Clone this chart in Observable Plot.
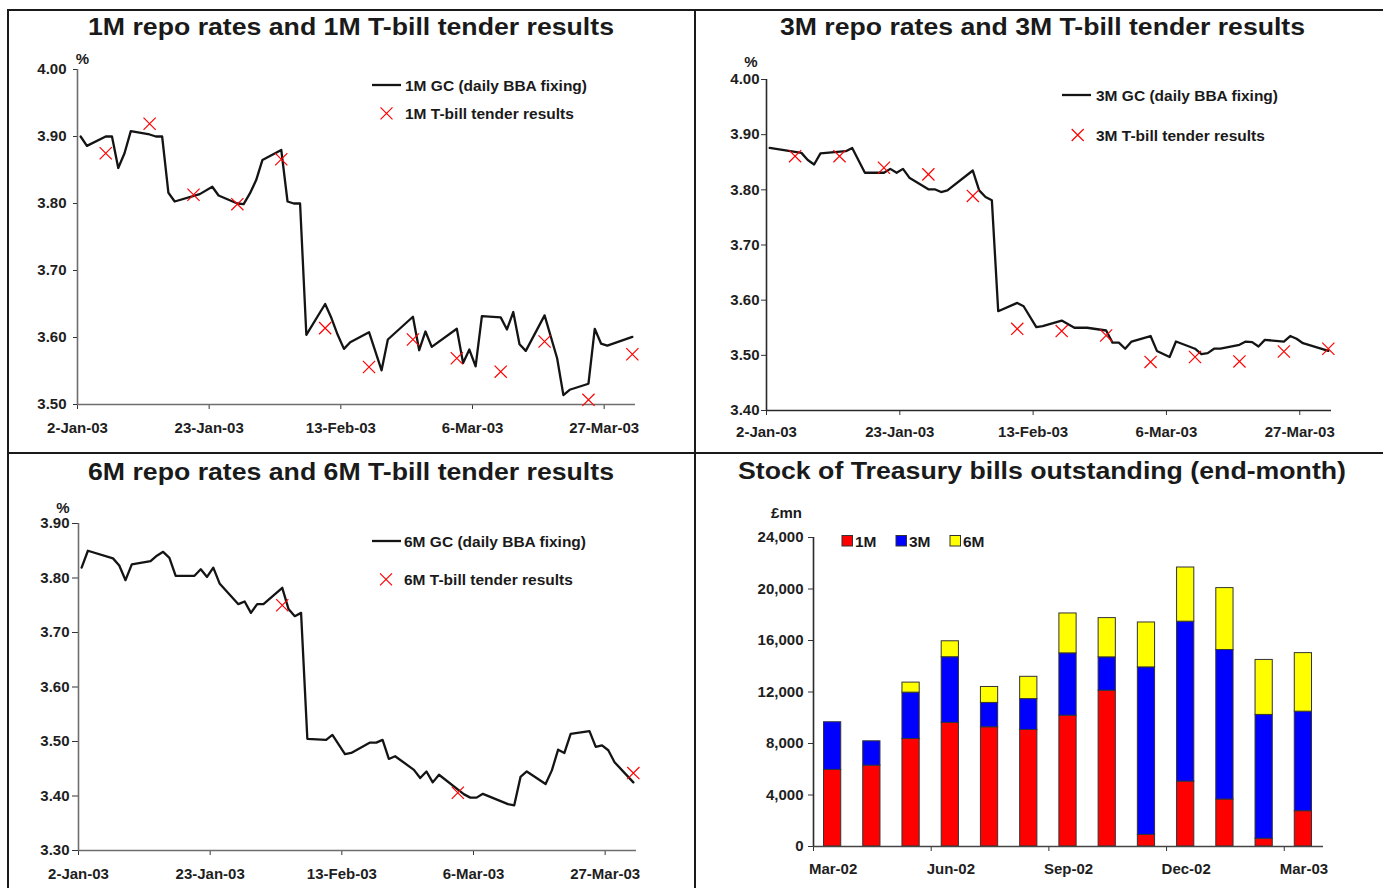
<!DOCTYPE html>
<html><head><meta charset="utf-8">
<script src="https://cdn.jsdelivr.net/npm/d3@7"></script>
<script src="https://cdn.jsdelivr.net/npm/@observablehq/plot@0.6"></script>
<style>
html,body{margin:0;padding:0;background:#fff;}
#root{position:relative;width:1383px;height:888px;overflow:hidden;font-family:"Liberation Sans",Arial,sans-serif;}
</style></head><body><div id="root"></div>
<script>
// ---------- DATA ----------
const dateTicks = ["2003-01-02","2003-01-23","2003-02-13","2003-03-06","2003-03-27"];
const tenderDates = ["2003-01-06","2003-01-13","2003-01-20","2003-01-27","2003-02-03","2003-02-10","2003-02-17","2003-02-24","2003-03-03","2003-03-10","2003-03-17","2003-03-24","2003-03-31"];

const gc1mDates = ["2003-01-02","2003-01-03","2003-01-06","2003-01-07","2003-01-08","2003-01-09","2003-01-10","2003-01-13","2003-01-14","2003-01-15","2003-01-16","2003-01-17","2003-01-21","2003-01-23","2003-01-24","2003-01-27","2003-01-28","2003-01-29","2003-01-30","2003-01-31","2003-02-03","2003-02-04","2003-02-05","2003-02-06","2003-02-07","2003-02-10","2003-02-11","2003-02-12","2003-02-13","2003-02-14","2003-02-17","2003-02-19","2003-02-20","2003-02-24","2003-02-25","2003-02-26","2003-02-27","2003-03-03","2003-03-04","2003-03-05","2003-03-06","2003-03-07","2003-03-10","2003-03-11","2003-03-12","2003-03-13","2003-03-14","2003-03-17","2003-03-19","2003-03-20","2003-03-21","2003-03-24","2003-03-25","2003-03-26","2003-03-27","2003-03-31"];
const gc1mValues = [3.900,3.886,3.900,3.900,3.853,3.875,3.908,3.903,3.900,3.900,3.816,3.803,3.814,3.825,3.812,3.800,3.799,3.815,3.835,3.865,3.880,3.803,3.800,3.800,3.604,3.650,3.629,3.604,3.583,3.593,3.608,3.551,3.597,3.631,3.581,3.609,3.586,3.613,3.562,3.582,3.557,3.632,3.630,3.612,3.638,3.590,3.580,3.633,3.569,3.514,3.522,3.531,3.613,3.591,3.588,3.601];
const tender1mValues = [3.875,3.919,3.813,3.799,3.866,3.614,3.556,3.597,3.569,3.549,3.594,3.507,3.575];

const gc3mDates = ["2003-01-02","2003-01-07","2003-01-08","2003-01-09","2003-01-10","2003-01-14","2003-01-15","2003-01-17","2003-01-20","2003-01-21","2003-01-22","2003-01-23","2003-01-24","2003-01-27","2003-01-28","2003-01-29","2003-01-30","2003-02-03","2003-02-04","2003-02-05","2003-02-06","2003-02-07","2003-02-10","2003-02-11","2003-02-13","2003-02-14","2003-02-17","2003-02-19","2003-02-21","2003-02-24","2003-02-25","2003-02-26","2003-02-27","2003-02-28","2003-03-03","2003-03-04","2003-03-06","2003-03-07","2003-03-10","2003-03-11","2003-03-12","2003-03-13","2003-03-14","2003-03-17","2003-03-18","2003-03-19","2003-03-20","2003-03-21","2003-03-24","2003-03-25","2003-03-26","2003-03-27","2003-03-31"];
const gc3mValues = [3.876,3.867,3.854,3.846,3.866,3.870,3.876,3.831,3.831,3.838,3.831,3.838,3.822,3.801,3.801,3.796,3.799,3.835,3.799,3.787,3.781,3.580,3.595,3.589,3.551,3.553,3.563,3.550,3.550,3.545,3.523,3.523,3.512,3.525,3.535,3.508,3.497,3.525,3.512,3.502,3.504,3.512,3.512,3.519,3.525,3.524,3.516,3.528,3.525,3.535,3.530,3.522,3.508];
const tender3mValues = [3.861,3.861,3.840,3.828,3.789,3.548,3.544,3.536,3.488,3.497,3.489,3.507,3.512];

const gc6mDates = ["2003-01-02","2003-01-03","2003-01-07","2003-01-08","2003-01-09","2003-01-10","2003-01-13","2003-01-14","2003-01-15","2003-01-16","2003-01-17","2003-01-20","2003-01-21","2003-01-22","2003-01-23","2003-01-24","2003-01-27","2003-01-28","2003-01-29","2003-01-30","2003-01-31","2003-02-03","2003-02-04","2003-02-05","2003-02-06","2003-02-07","2003-02-10","2003-02-11","2003-02-13","2003-02-14","2003-02-17","2003-02-18","2003-02-19","2003-02-20","2003-02-21","2003-02-24","2003-02-25","2003-02-26","2003-02-27","2003-02-28","2003-03-04","2003-03-05","2003-03-06","2003-03-07","2003-03-11","2003-03-12","2003-03-13","2003-03-14","2003-03-17","2003-03-18","2003-03-19","2003-03-20","2003-03-21","2003-03-24","2003-03-25","2003-03-26","2003-03-27","2003-03-28","2003-03-31"];
const gc6mValues = [3.819,3.850,3.836,3.823,3.796,3.825,3.831,3.841,3.848,3.837,3.804,3.804,3.816,3.802,3.819,3.790,3.752,3.757,3.736,3.752,3.752,3.782,3.743,3.730,3.736,3.505,3.503,3.512,3.477,3.479,3.498,3.498,3.503,3.468,3.473,3.448,3.433,3.445,3.425,3.439,3.403,3.397,3.397,3.404,3.385,3.383,3.435,3.445,3.422,3.447,3.485,3.479,3.514,3.519,3.490,3.493,3.484,3.462,3.425];
const tender6mDates = ["2003-02-03","2003-03-03","2003-03-31"];
const tender6mValues = [3.750,3.406,3.442];

const stockMonths = ["Mar-02","Apr-02","May-02","Jun-02","Jul-02","Aug-02","Sep-02","Oct-02","Nov-02","Dec-02","Jan-03","Feb-03","Mar-03"];
const stockSeries = ["1M","3M","6M"];
const stock1M = [5950,6280,8350,9600,9260,9050,10160,12100,900,5040,3650,600,2740];
const stock3M = [3700,1890,3600,5100,1890,2400,4840,2590,13010,12420,11610,9620,7730];
const stock6M = [0,0,780,1240,1240,1730,3100,3050,3490,4210,4810,4270,4550];
const stockTickMonths = ["Mar-02","Jun-02","Sep-02","Dec-02","Mar-03"];

// ---------- HELPERS ----------
const parseDay = d3.utcParse("%Y-%m-%d");
const atNoon = s => d3.utcHour.offset(parseDay(s), 12);
const xDomain = [parseDay("2003-01-02"), parseDay("2003-04-01")];
const fmtDate = d3.utcFormat("%-d-%b-%y");
const FONT = '"Liberation Sans", Arial, Helvetica, sans-serif';
const root = document.getElementById("root");

function place(svg, left, top) {
  svg.style.position = "absolute";
  svg.style.left = left + "px";
  svg.style.top = top + "px";
  svg.style.maxWidth = "none";
  root.appendChild(svg);
}

function ratePanel(o) {
  const gc = o.gcDates.map((d, i) => ({date: atNoon(d), value: o.gcValues[i]}));
  const td = o.tDates.map((d, i) => ({date: atNoon(d), value: o.tValues[i]}));
  return Plot.plot({
    width: o.width, height: o.height,
    marginLeft: o.m[0], marginRight: o.m[1], marginTop: o.m[2], marginBottom: o.m[3],
    style: {fontFamily: FONT, fontSize: "15px", fontWeight: "bold", background: "transparent", color: "#1e1e1e", overflow: "visible"},
    x: {type: "utc", domain: xDomain},
    y: {domain: o.yDomain},
    marks: [
      Plot.axisY({ticks: o.yTicks, tickFormat: d3.format(".2f"), tickSize: o.ySize, tickPadding: o.yPad, label: null, stroke: "#333"}),
      Plot.axisX({ticks: dateTicks.map(parseDay), tickFormat: fmtDate, tickSize: 5, tickPadding: o.xPad, label: null, stroke: "#333"}),
      Plot.ruleX([xDomain[0]], {stroke: o.axisColor, strokeWidth: 1.6}),
      Plot.ruleY([o.yDomain[0]], {stroke: o.axisColor, strokeWidth: 1.6}),
      Plot.line(gc, {x: "date", y: "value", stroke: "#141414", strokeWidth: 2.3}),
      Plot.dot(td, {x: "date", y: "value", symbol: "times", r: 5.6, stroke: "#ff0000", strokeWidth: 1.2})
    ]
  });
}

// Panel 1: 1M
place(ratePanel({
  gcDates: gc1mDates, gcValues: gc1mValues, tDates: tenderDates, tValues: tender1mValues,
  yDomain: [3.5, 4.0], yTicks: [3.5, 3.6, 3.7, 3.8, 3.9, 4.0],
  width: 695, height: 410, m: [77, 60, 29, 46], ySize: 4, yPad: 7, xPad: 13, axisColor: "#6e6e6e"
}), 0, 40);

// Panel 2: 3M
place(ratePanel({
  gcDates: gc3mDates, gcValues: gc3mValues, tDates: tenderDates, tValues: tender3mValues,
  yDomain: [3.4, 4.0], yTicks: [3.4, 3.5, 3.6, 3.7, 3.8, 3.9, 4.0],
  width: 688, height: 415, m: [71, 52, 39, 45], ySize: 5, yPad: 2, xPad: 11, axisColor: "#2a2a2a"
}), 695, 40);

// Panel 3: 6M
place(ratePanel({
  gcDates: gc6mDates, gcValues: gc6mValues, tDates: tender6mDates, tValues: tender6mValues,
  yDomain: [3.3, 3.9], yTicks: [3.3, 3.4, 3.5, 3.6, 3.7, 3.8, 3.9],
  width: 695, height: 398, m: [78, 59, 33, 38], ySize: 6, yPad: 3, xPad: 13, axisColor: "#6e6e6e"
}), 0, 490);

// Panel 4: stock of bills
const stockValues = [stock1M, stock3M, stock6M];
const stockRows = [];
stockSeries.forEach((s, k) => stockValues[k].forEach((v, i) => {
  if (v > 0) stockRows.push({i, i2: i + 1, series: s, value: v});
}));
const tickIdx = stockTickMonths.map(m => stockMonths.indexOf(m));
place(Plot.plot({
  width: 688, height: 398, marginLeft: 118, marginRight: 60, marginTop: 47, marginBottom: 42,
  style: {fontFamily: FONT, fontSize: "15px", fontWeight: "bold", background: "transparent", color: "#1e1e1e", overflow: "visible"},
  x: {type: "linear", domain: [0, stockMonths.length]},
  y: {domain: [0, 24000]},
  color: {domain: stockSeries, range: ["#ff0000", "#0000ff", "#ffff00"]},
  marks: [
    Plot.axisY({ticks: d3.range(0, 24001, 4000), tickFormat: d3.format(","), tickSize: 5, tickPadding: 5, label: null, stroke: "#333"}),
    Plot.axisX({ticks: tickIdx, tickFormat: () => "", tickSize: 5, label: null, stroke: "#333"}),
    Plot.axisX({ticks: tickIdx.map(i => i + 0.5), tickFormat: d => stockMonths[Math.floor(d)], tickSize: 0, tickPadding: 17, label: null}),
    Plot.rectY(stockRows, {x1: "i", x2: "i2", y: "value", fill: "series", insetLeft: 10.5, insetRight: 11.5, stroke: "#333", strokeWidth: 1}),
    Plot.ruleX([0], {stroke: "#2a2a2a", strokeWidth: 1.6}),
    Plot.ruleY([0], {stroke: "#444", strokeWidth: 1.6})
  ]
}), 695, 490);

// ---------- OVERLAY: borders, titles, legends, units ----------
const ov = d3.select(root).append("svg")
  .attr("width", 1383).attr("height", 888)
  .style("position", "absolute").style("left", "0px").style("top", "0px")
  .style("pointer-events", "none")
  .style("font-family", FONT).style("font-weight", "bold");

const ink = "#1a1a1a";
ov.append("rect").attr("x", 7).attr("y", 9).attr("width", 1376).attr("height", 2).attr("fill", ink);
ov.append("rect").attr("x", 7).attr("y", 9).attr("width", 2).attr("height", 879).attr("fill", ink);
ov.append("rect").attr("x", 694).attr("y", 9).attr("width", 2).attr("height", 879).attr("fill", ink);
ov.append("rect").attr("x", 7).attr("y", 452).attr("width", 1376).attr("height", 2).attr("fill", ink);

function title(txt, x, y, len) {
  ov.append("text").attr("x", x).attr("y", y).attr("font-size", 23.5)
    .attr("textLength", len).attr("lengthAdjust", "spacingAndGlyphs")
    .attr("fill", ink).text(txt);
}
title("1M repo rates and 1M T-bill tender results", 88, 35, 526);
title("3M repo rates and 3M T-bill tender results", 780, 35, 525);
title("6M repo rates and 6M T-bill tender results", 88, 479.5, 526);
title("Stock of Treasury bills outstanding (end-month)", 738, 479, 608);

function label(txt, x, cy, anchor = "start", size = 15) {
  ov.append("text").attr("x", x).attr("y", cy + 0.358 * size).attr("font-size", size)
    .attr("text-anchor", anchor).attr("fill", ink).text(txt);
}
label("%", 82.5, 59, "middle");
label("%", 751, 62, "middle");
label("%", 63, 507.5, "middle");
label("£mn", 786.5, 513, "middle");

function rateLegend(lineX, lineY, textX, markX, markY, name) {
  ov.append("line").attr("x1", lineX).attr("x2", lineX + 29).attr("y1", lineY).attr("y2", lineY)
    .attr("stroke", "#141414").attr("stroke-width", 2.3);
  label(name + " GC (daily BBA fixing)", textX, lineY, "start", 15.5);
  const s = 6;
  ov.append("path").attr("d", `M${markX - s},${markY - s}L${markX + s},${markY + s}M${markX - s},${markY + s}L${markX + s},${markY - s}`)
    .attr("stroke", "#ff0000").attr("stroke-width", 1.2).attr("fill", "none");
  label(name + " T-bill tender results", textX, markY, "start", 15.5);
}
rateLegend(372, 85, 405, 386.5, 113.3, "1M");
rateLegend(1062, 95, 1096, 1077.7, 135, "3M");
rateLegend(372, 541, 404, 386, 579.3, "6M");

const swatchColors = ["#ff0000", "#0000ff", "#ffff00"];
const swatchX = [842, 896, 950];
stockSeries.forEach((s, k) => {
  ov.append("rect").attr("x", swatchX[k]).attr("y", 535.5).attr("width", 10.5).attr("height", 10.5)
    .attr("fill", swatchColors[k]).attr("stroke", "#333").attr("stroke-width", 1);
  label(s, swatchX[k] + 13, 541, "start", 15.5);
});
</script>
</body></html>
